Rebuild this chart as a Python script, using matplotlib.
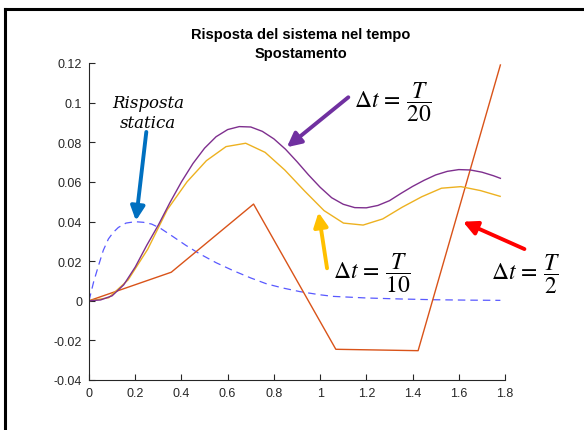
import matplotlib
matplotlib.use("Agg")
import matplotlib.pyplot as plt
from matplotlib.lines import Line2D
from matplotlib.ticker import FuncFormatter

# dt = T/2
t_half = [0, 0.356, 0.712, 1.068, 1.424, 1.78]
u_half = [0, 0.0144, 0.0488, -0.0245, -0.0252, 0.119]

# dt = T/10
t_tenth = [0, 0.085, 0.169, 0.254, 0.339, 0.424, 0.508, 0.593, 0.678, 0.762, 0.847,
           0.932, 1.017, 1.101, 1.186, 1.271, 1.355, 1.44, 1.525, 1.609, 1.694, 1.779]
u_tenth = [0, 0.0015, 0.0105, 0.026, 0.046, 0.060, 0.0707, 0.0778, 0.0795, 0.0749, 0.0660,
           0.0555, 0.0455, 0.0392, 0.0382, 0.0413, 0.0472, 0.0525, 0.0568, 0.0576, 0.0556, 0.0527]

# dt = T/20
t_20 = [0, 0.05, 0.1, 0.15, 0.2, 0.25, 0.3, 0.35, 0.4, 0.45, 0.5, 0.55, 0.6, 0.65, 0.7,
        0.75, 0.8, 0.85, 0.9, 0.95, 1.0, 1.05, 1.1, 1.15, 1.2, 1.25, 1.3, 1.35, 1.4,
        1.45, 1.5, 1.55, 1.6, 1.65, 1.7, 1.75, 1.78]
u_20 = [0, 0.0004, 0.0025, 0.0080, 0.0170, 0.0280, 0.0382, 0.0495, 0.0600, 0.0693, 0.0770,
        0.0828, 0.0864, 0.0879, 0.0877, 0.0855, 0.0817, 0.0765, 0.0702, 0.0635, 0.0573,
        0.0520, 0.0487, 0.0470, 0.0469, 0.0481, 0.0505, 0.0542, 0.0577, 0.0608, 0.0635,
        0.0653, 0.0662, 0.0660, 0.0649, 0.0631, 0.0618]

# risposta statica
t_stat = [0, 0.02, 0.041, 0.062, 0.084, 0.105, 0.127, 0.16, 0.199, 0.235, 0.271, 0.31, 0.358, 0.42,
          0.48, 0.55, 0.624, 0.70, 0.769, 0.84, 0.913, 1.0, 1.057, 1.2, 1.346, 1.5, 1.65, 1.78]
u_stat = [0, 0.0095, 0.0177, 0.0255, 0.0312, 0.0345, 0.037, 0.0392, 0.0399, 0.0396, 0.0387, 0.0365, 0.0328, 0.0279,
          0.0236, 0.0192, 0.0152, 0.0115, 0.0085, 0.0064, 0.0046, 0.0030, 0.0022, 0.0014, 0.0009, 0.0005, 0.0003, 0.0002]

xticks = [0, 0.2, 0.4, 0.6, 0.8, 1.0, 1.2, 1.4, 1.6, 1.8]
yticks = [-0.04, -0.02, 0, 0.02, 0.04, 0.06, 0.08, 0.1, 0.12]

plt.rcParams['font.family'] = ['Liberation Sans', 'DejaVu Sans']
plt.rcParams['mathtext.fontset'] = 'stix'

fig = plt.figure(figsize=(5.84, 4.31), dpi=100)
ax = fig.add_axes([89 / 584, 1 - 381 / 431, 416 / 584, 317 / 431])

ax.plot(t_stat, u_stat, '--', color=(0.35, 0.35, 1.0), lw=0.9, dashes=(6, 4))
ax.plot(t_half, u_half, color='#D95319', lw=1.0)
ax.plot(t_tenth, u_tenth, color='#EDB120', lw=1.0)
ax.plot(t_20, u_20, color='#7E2F8E', lw=1.0)

ax.set_xlim(0, 1.8)
ax.set_ylim(-0.04, 0.12)
ax.set_xticks(xticks)
ax.set_yticks(yticks)
fmt = FuncFormatter(lambda v, p: ('%g' % round(v, 4)))
ax.xaxis.set_major_formatter(fmt)
ax.yaxis.set_major_formatter(fmt)
ax.tick_params(direction='in', length=4, width=0.8, colors='#262626', labelsize=9, pad=5)
for s in ['top', 'right']:
    ax.spines[s].set_visible(False)
for s in ['left', 'bottom']:
    ax.spines[s].set_color('#262626')
    ax.spines[s].set_linewidth(0.8)

ax.set_title('Risposta del sistema nel tempo\nSpostamento', fontsize=10.5,
             fontweight='bold', color='black', pad=4, x=0.51, linespacing=1.45)

# arrows
def arrow(tail, tip, col):
    ax.annotate('', xy=tip, xytext=tail, annotation_clip=False,
                arrowprops=dict(arrowstyle='-|>,head_length=0.6,head_width=0.3',
                                lw=2.8, color=col, shrinkA=0, shrinkB=0, mutation_scale=14))

arrow((0.248, 0.0852), (0.203, 0.0404), '#0070C0')
arrow((1.122, 0.1027), (0.856, 0.0775), '#7030A0')
arrow((1.030, 0.0164), (0.993, 0.0446), '#FFC000')
arrow((1.884, 0.0261), (1.618, 0.0399), '#FF0000')

ax.text(0.255, 0.0950, 'Risposta\nstatica', ha='center', va='center', fontsize=12,
        style='italic', family='DejaVu Serif', linespacing=1.2, clip_on=False)
ax.text(1.147, 0.1008, r'$\Delta t\,=\,\dfrac{T}{20}$', ha='left', va='center', fontsize=17, clip_on=False)
ax.text(1.054, 0.0143, r'$\Delta t\,=\,\dfrac{T}{10}$', ha='left', va='center', fontsize=17, clip_on=False)
ax.text(1.740, 0.0140, r'$\Delta t\,=\,\dfrac{T}{2}$', ha='left', va='center', fontsize=17, clip_on=False)

# frame of the figure (top and left edges)
fig.add_artist(Line2D([5 / 584, 5 / 584], [0, 1 - 10 / 431], color='black', lw=2.2))
fig.add_artist(Line2D([5 / 584, 1], [1 - 10 / 431, 1 - 10 / 431], color='black', lw=2.2))

fig.savefig('out.png', dpi=100)
